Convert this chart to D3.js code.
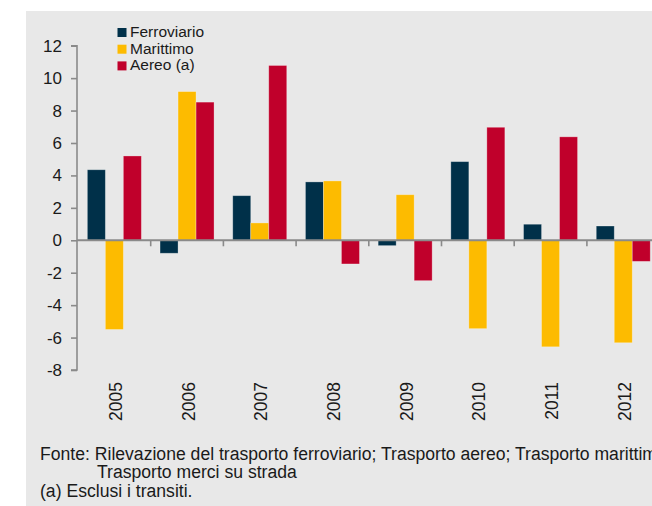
<!DOCTYPE html>
<html><head><meta charset="utf-8">
<script src="https://cdn.jsdelivr.net/npm/d3@7"></script>
<style>
html,body{margin:0;padding:0;background:#fff;}
svg{display:block;font-family:"Liberation Sans",Arial,Helvetica,sans-serif;}
</style></head>
<body>
<svg id="chart" width="652" height="506"></svg>
<script>
const years = ["2005","2006","2007","2008","2009","2010","2011","2012"];
const seriesNames = ["Ferroviario","Marittimo","Aereo (a)"];
const ferroviario = [4.35, -0.8, 2.75, 3.6, -0.33, 4.85, 0.99, 0.88];
const marittimo   = [-5.5, 9.17, 1.07, 3.66, 2.81, -5.45, -6.57, -6.32];
const aereo       = [5.2, 8.52, 10.78, -1.46, -2.49, 6.97, 6.38, -1.3];
const colors = ["#003049", "#FDBB00", "#C0002B"];
const yTicks = [12, 10, 8, 6, 4, 2, 0, -2, -4, -6, -8];
const footLines = [
  "Fonte: Rilevazione del trasporto ferroviario; Trasporto aereo; Trasporto marittimo;",
  "Trasporto merci su strada",
  "(a) Esclusi i transiti."
];

const values = [ferroviario, marittimo, aereo];
const data = years.map((y, i) => ({year: y, vals: seriesNames.map((s, j) => ({series: s, idx: j, v: values[j][i]}))}));

const svg = d3.select("#chart");
svg.append("rect").attr("x", 26).attr("y", 11).attr("width", 626).attr("height", 495).attr("fill", "#E8E8E8");

const y = d3.scaleLinear().domain([-8, 12]).range([370, 45.7]);
const x0 = d3.scaleBand().domain(years).range([78, 78 + 8 * 72.7]).padding(0);
const pad = (x0.bandwidth() - 54) / 2;
const x1 = d3.scaleBand().domain(seriesNames).range([pad, x0.bandwidth() - pad]).padding(0);

// bars
const g = svg.append("g");
g.selectAll("g.grp").data(data).join("g")
  .attr("transform", d => `translate(${x0(d.year)},0)`)
  .selectAll("rect").data(d => d.vals).join("rect")
  .attr("x", d => x1(d.series))
  .attr("width", x1.bandwidth())
  .attr("y", d => y(Math.max(0, d.v)))
  .attr("height", d => Math.abs(y(d.v) - y(0)))
  .attr("fill", d => colors[d.idx])
  .attr("stroke", "rgba(255,255,255,0.35)")
  .attr("stroke-width", 0.8);

// y axis
const yAxis = d3.axisLeft(y).tickValues(yTicks).tickSize(6).tickPadding(9).tickFormat(d3.format("d"));
const ya = svg.append("g").attr("transform", "translate(77,0)").call(yAxis);
ya.select(".domain").attr("stroke", "#8a8a8a").attr("stroke-width", 1.6).attr("d", `M-6,${y(12)}H0V${y(-8)}H-6`);
ya.selectAll(".tick line").attr("stroke", "#8a8a8a").attr("stroke-width", 1.6);
ya.selectAll(".tick text").attr("font-size", 17).attr("fill", "#1a1a1a")
  .text(d => d < 0 ? "-" + Math.abs(d) : d);

// x axis (line at zero)
svg.append("line").attr("x1", 77).attr("x2", 652).attr("y1", y(0)).attr("y2", y(0))
  .attr("stroke", "#8a8a8a").attr("stroke-width", 2);
svg.append("g").selectAll("line").data(years.slice(1)).join("line")
  .attr("x1", d => x0(d)).attr("x2", d => x0(d))
  .attr("y1", y(0)).attr("y2", y(0) + 6)
  .attr("stroke", "#8a8a8a").attr("stroke-width", 1.6);

// x labels rotated
svg.append("g").selectAll("text").data(years).join("text")
  .attr("transform", d => `translate(${x0(d) + x0.bandwidth() / 2 + 7.5},382) rotate(-90)`)
  .attr("text-anchor", "end")
  .attr("font-size", 17.5)
  .attr("fill", "#1a1a1a")
  .text(d => d);

// legend
const leg = svg.append("g");
seriesNames.forEach((s, i) => {
  const yy = 28 + i * 16.7;
  leg.append("rect").attr("x", 117.5).attr("y", yy).attr("width", 9).attr("height", 9).attr("fill", colors[i]);
  leg.append("text").attr("x", 130).attr("y", yy + 9).attr("font-size", 15.5).attr("fill", "#1a1a1a").text(s);
});

// footer
const foot = svg.append("g").attr("font-size", 17.6).attr("fill", "#1a1a1a");
foot.append("text").attr("x", 40).attr("y", 460).text(footLines[0]);
foot.append("text").attr("x", 97).attr("y", 478).text(footLines[1]);
foot.append("text").attr("x", 40).attr("y", 497).text(footLines[2]);
</script>
</body></html>
